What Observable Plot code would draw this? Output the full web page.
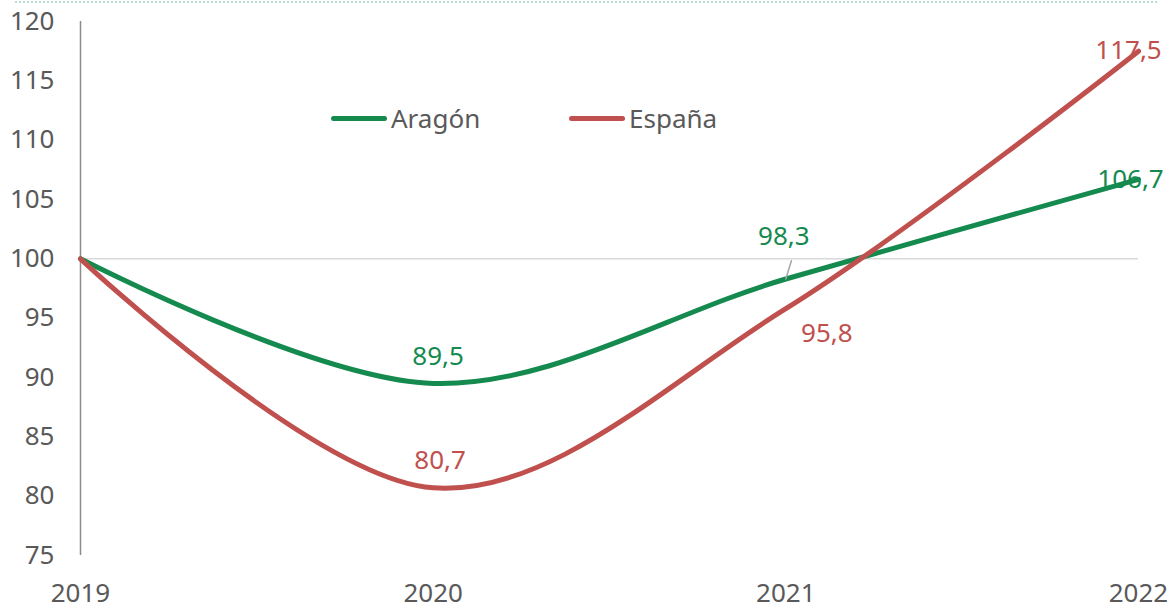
<!DOCTYPE html>
<html>
<head>
<meta charset="utf-8">
<script src="https://cdn.jsdelivr.net/npm/d3@7"></script>
<script src="https://cdn.jsdelivr.net/npm/@observablehq/plot@0.6"></script>
<style>
  html, body { margin: 0; padding: 0; background: #fff; }
  #wrap { position: relative; width: 1176px; height: 610px; font-family: "Noto Sans", sans-serif; }
  #topline { position: absolute; left: 15px; top: 1px; width: 1142px; border-top: 2px dotted #b9e0cc; }
  .leg { position: absolute; top: 100px; display: flex; align-items: center; font-size: 26px; color: #595959; }
  .leg span.sw { display: inline-block; width: 56px; height: 5px; border-radius: 3px; margin-right: 4px; }
</style>
</head>
<body>
<div id="wrap">
  <div id="topline"></div>
  <div id="chart"></div>
</div>
<script>
const years = [2019, 2020, 2021, 2022];
const aragon = [100, 89.5, 98.3, 106.7];
const espana = [100, 80.7, 95.8, 117.5];
const seriesNames = ["Aragón", "España"];
const colors = ["#148a4f", "#c0504d"];
const yTicks = [75, 80, 85, 90, 95, 100, 105, 110, 115, 120];

const rows = [];
years.forEach((yr, i) => {
  rows.push({year: yr, value: aragon[i], series: seriesNames[0]});
  rows.push({year: yr, value: espana[i], series: seriesNames[1]});
});

const fmt = v => v.toFixed(1).replace(".", ",");
function label(series, idx, color, dx, dy) {
  const v = series[idx];
  return Plot.text([{x: years[idx], y: v, t: fmt(v)}], {
    x: "x", y: "y", text: "t", fill: color, dx, dy,
    fontSize: 26, textAnchor: "middle"
  });
}

const leaderShape = {
  draw(context, l) { context.moveTo(0, 0); context.lineTo(0, -l); }
};

const plot = Plot.plot({
  width: 1176,
  height: 610,
  marginLeft: 80,
  marginRight: 38,
  marginTop: 21,
  marginBottom: 55,
  style: {fontFamily: "'Noto Sans', sans-serif", fontSize: "26px", color: "#595959", background: "transparent"},
  x: {type: "linear", domain: [2019, 2022]},
  y: {domain: [75, 120]},
  color: {domain: seriesNames, range: colors},
  marks: [
    Plot.ruleY([100], {stroke: "#d9d9d9", strokeWidth: 1.5}),
    Plot.ruleX([2019], {y1: 75, y2: 120, stroke: "#8c8c8c", strokeWidth: 1.5}),
    Plot.axisY({ticks: yTicks, tickSize: 0, tickPadding: 26, fill: "#595959", fontSize: 26, label: null}),
    Plot.axisX({ticks: years, tickFormat: d => String(d), tickSize: 0, tickPadding: 28, fill: "#595959", fontSize: 26, label: null}),
    Plot.line(rows, {x: "year", y: "value", z: "series", stroke: "series", strokeWidth: 5, curve: "cardinal", tension: 0, strokeLinecap: "round"}),
    Plot.vector([{x: years[2], y: aragon[2]}], {x: "x", y: "y", length: 19, rotate: 17, anchor: "start", shape: leaderShape, stroke: "#a6a6a6", strokeWidth: 1.5}),
    label(aragon, 1, colors[0], 5, -27),
    label(espana, 1, colors[1], 7, -27),
    label(aragon, 2, colors[0], -2, -42),
    label(espana, 2, colors[1], 41, 25),
    label(espana, 3, colors[1], -10, 0),
    label(aragon, 3, colors[0], -8, 0)
  ]
});
document.getElementById("chart").appendChild(plot);

const wrap = document.getElementById("wrap");
[[331, 0], [569, 1]].forEach(([left, i]) => {
  const d = document.createElement("div");
  d.className = "leg";
  d.style.left = left + "px";
  const sw = document.createElement("span");
  sw.className = "sw";
  sw.style.background = colors[i];
  const t = document.createElement("span");
  t.textContent = seriesNames[i];
  d.appendChild(sw);
  d.appendChild(t);
  wrap.appendChild(d);
});
</script>
</body>
</html>
